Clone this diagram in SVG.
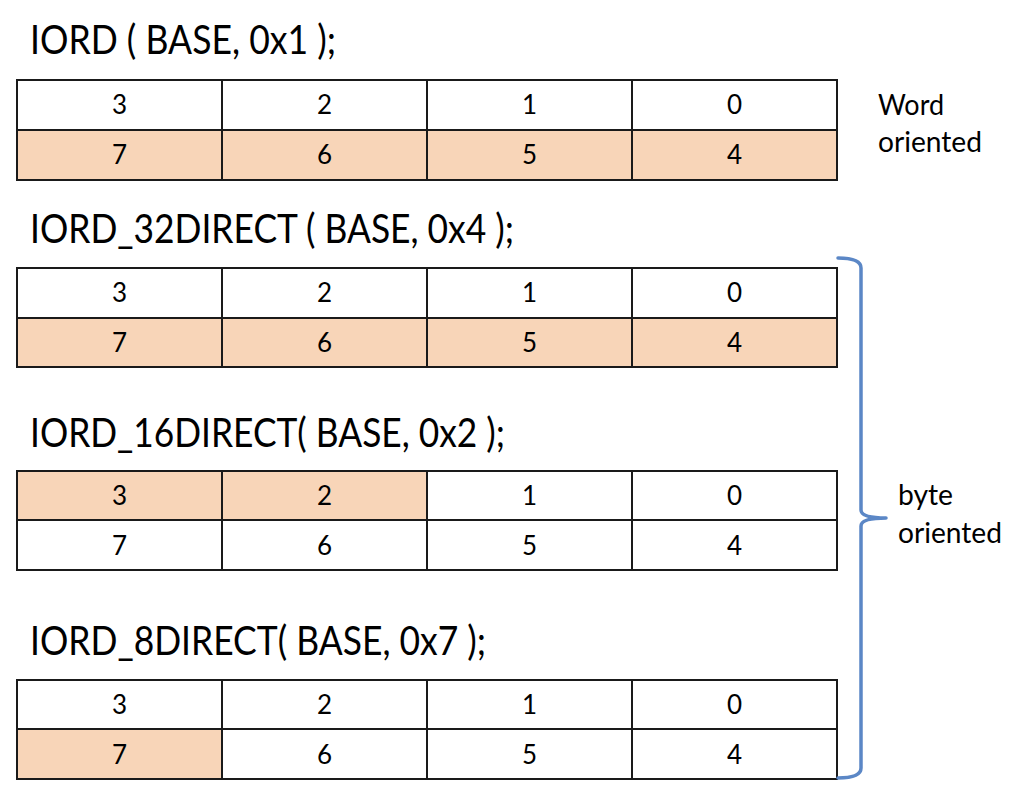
<svg xmlns="http://www.w3.org/2000/svg" width="1023" height="787" viewBox="0 0 1023 787">
<style>
.title{font-family:Lato,"Open Sans","Liberation Sans",sans-serif;font-size:40px;fill:#000}
.lbl{font-family:Lato,"Open Sans","Liberation Sans",sans-serif;font-size:29px;fill:#000}
.num{font-family:Lato,"Open Sans","Liberation Sans",sans-serif;font-size:26px;fill:#000;text-anchor:middle}
.w{fill:#ffffff}
.p{fill:#F8D5B8}
.grid{fill:none;stroke:#1a1a1a;stroke-width:2}
.brace{fill:none;stroke:#5B87C6;stroke-width:3.5;stroke-linecap:round;stroke-linejoin:round}
</style>
<rect width="1023" height="787" fill="#ffffff"/>

<g id="table1">
<text class="title" x="30" y="54" textLength="306" lengthAdjust="spacingAndGlyphs">IORD ( BASE, 0x1 );</text>
<rect class="w" x="17" y="80" width="820" height="50"/>
<rect class="p" x="17" y="130" width="820" height="50"/>
<path class="grid" d="M17,80H837V180H17Z M17,130H837 M222,80V180 M427,80V180 M632,80V180"/>
<text class="num" x="119.5" y="114">3</text><text class="num" x="324.5" y="114">2</text><text class="num" x="529.5" y="114">1</text><text class="num" x="734.5" y="114">0</text>
<text class="num" x="119.5" y="164">7</text><text class="num" x="324.5" y="164">6</text><text class="num" x="529.5" y="164">5</text><text class="num" x="734.5" y="164">4</text>
</g>

<g id="label-word">
<text class="lbl" x="878" y="115" textLength="66" lengthAdjust="spacingAndGlyphs">Word</text>
<text class="lbl" x="878" y="152" textLength="104" lengthAdjust="spacingAndGlyphs">oriented</text>
</g>

<g id="table2">
<text class="title" x="30" y="243" textLength="484" lengthAdjust="spacingAndGlyphs">IORD_32DIRECT ( BASE, 0x4 );</text>
<rect class="w" x="17" y="268" width="820" height="50"/>
<rect class="p" x="17" y="318" width="820" height="49"/>
<path class="grid" d="M17,268H837V367H17Z M17,318H837 M222,268V367 M427,268V367 M632,268V367"/>
<text class="num" x="119.5" y="302">3</text><text class="num" x="324.5" y="302">2</text><text class="num" x="529.5" y="302">1</text><text class="num" x="734.5" y="302">0</text>
<text class="num" x="119.5" y="352">7</text><text class="num" x="324.5" y="352">6</text><text class="num" x="529.5" y="352">5</text><text class="num" x="734.5" y="352">4</text>
</g>

<g id="table3">
<text class="title" x="30" y="447" textLength="475" lengthAdjust="spacingAndGlyphs">IORD_16DIRECT( BASE, 0x2 );</text>
<rect class="w" x="17" y="471" width="820" height="99"/>
<rect class="p" x="17" y="471" width="410" height="49"/>
<path class="grid" d="M17,471H837V570H17Z M17,520H837 M222,471V570 M427,471V570 M632,471V570"/>
<text class="num" x="119.5" y="505">3</text><text class="num" x="324.5" y="505">2</text><text class="num" x="529.5" y="505">1</text><text class="num" x="734.5" y="505">0</text>
<text class="num" x="119.5" y="555">7</text><text class="num" x="324.5" y="555">6</text><text class="num" x="529.5" y="555">5</text><text class="num" x="734.5" y="555">4</text>
</g>

<g id="table4">
<text class="title" x="30" y="655" textLength="456" lengthAdjust="spacingAndGlyphs">IORD_8DIRECT( BASE, 0x7 );</text>
<rect class="w" x="17" y="680" width="820" height="99"/>
<rect class="p" x="17" y="729" width="205" height="50"/>
<path class="grid" d="M17,680H837V779H17Z M17,729H837 M222,680V779 M427,680V779 M632,680V779"/>
<text class="num" x="119.5" y="714">3</text><text class="num" x="324.5" y="714">2</text><text class="num" x="529.5" y="714">1</text><text class="num" x="734.5" y="714">0</text>
<text class="num" x="119.5" y="764">7</text><text class="num" x="324.5" y="764">6</text><text class="num" x="529.5" y="764">5</text><text class="num" x="734.5" y="764">4</text>
</g>

<g id="connectors">
<path class="brace" d="M838,258 Q861,258 861,268 L861,510 Q861,518 886,518 Q861,518 861,526 L861,768 Q861,778 838,778"/>
</g>

<g id="label-byte">
<text class="lbl" x="898" y="505" textLength="55" lengthAdjust="spacingAndGlyphs">byte</text>
<text class="lbl" x="898" y="543" textLength="104" lengthAdjust="spacingAndGlyphs">oriented</text>
</g>
</svg>
